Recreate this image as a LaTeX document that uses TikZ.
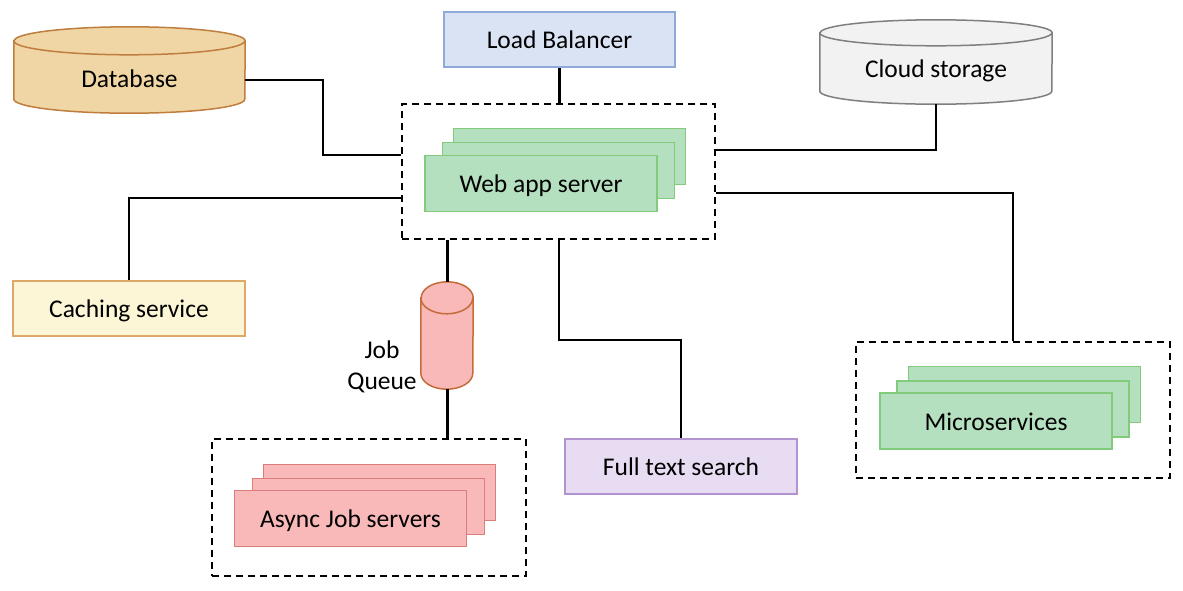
\documentclass[tikz,border=0pt]{standalone}
\usepackage{fontspec}
\setmainfont{Carlito}
\usetikzlibrary{calc}
\definecolor{dbfill}{HTML}{F0D6A4}
\definecolor{dbline}{HTML}{BF7D3E}
\definecolor{lbfill}{HTML}{DAE3F3}
\definecolor{lbline}{HTML}{8EAADB}
\definecolor{csfill}{HTML}{F2F2F2}
\definecolor{csline}{HTML}{7F7F7F}
\definecolor{grfill}{HTML}{B4E0C0}
\definecolor{grline}{HTML}{82CA7C}
\definecolor{cafill}{HTML}{FCF6D7}
\definecolor{caline}{HTML}{DDA86A}
\definecolor{jqfill}{HTML}{F8B9B8}
\definecolor{jqline}{HTML}{C56B3A}
\definecolor{asline}{HTML}{D97E7C}
\definecolor{ftfill}{HTML}{E8DCF2}
\definecolor{ftline}{HTML}{B393CF}
\tikzset{
  lbl/.style={font=\fontsize{25.5}{31}\selectfont, inner sep=0pt, text=black},
  oneline/.style={lbl, text height=18pt, text depth=0pt},
  boxnode/.style={oneline, draw, line width=1.5pt, minimum width=232pt, minimum height=56pt},
  ghost/.style={inner sep=0pt, draw=none},
  container/.style={draw=black, line width=2pt, dash pattern=on 7pt off 5pt, inner sep=0pt},
  thin/.style={draw=black, line width=2pt},
  thick/.style={draw=black, line width=3pt},
}
\begin{document}
\begin{tikzpicture}[x=1pt,y=-1pt]
\useasboundingbox (0,0) rectangle (1183,590);

% ---------- cylinders ----------
% Database
\node[ghost, minimum width=231pt, minimum height=86pt] (db) at (129.5,70) {};
\path[fill=dbfill, draw=dbline, line width=1.5pt]
  ([yshift=-14pt]db.north west) -- ([yshift=14pt]db.south west)
  arc[start angle=180, end angle=360, x radius=115.5pt, y radius=14pt]
  -- ([yshift=-14pt]db.north east)
  arc[start angle=0, end angle=180, x radius=115.5pt, y radius=14pt] -- cycle;
\draw[dbline, line width=1.5pt] ([yshift=-14pt]db.north west)
  arc[start angle=180, end angle=360, x radius=115.5pt, y radius=14pt];
\node[oneline] (dbt) at (129.5,78) {Database};

% Cloud storage
\node[ghost, minimum width=232pt, minimum height=84pt] (cs) at (936,62) {};
\path[fill=csfill, draw=csline, line width=1.5pt]
  ([yshift=-13pt]cs.north west) -- ([yshift=13pt]cs.south west)
  arc[start angle=180, end angle=360, x radius=116pt, y radius=13pt]
  -- ([yshift=-13pt]cs.north east)
  arc[start angle=0, end angle=180, x radius=116pt, y radius=13pt] -- cycle;
\draw[csline, line width=1.5pt] ([yshift=-13pt]cs.north west)
  arc[start angle=180, end angle=360, x radius=116pt, y radius=13pt];
\node[oneline] (cst) at (936,68) {Cloud storage};

% Job queue
\node[ghost, minimum width=52pt, minimum height=107pt] (jq) at (447,335.5) {};
\path[fill=jqfill, draw=jqline, line width=1.5pt]
  ([yshift=-16pt]jq.north west) -- ([yshift=16pt]jq.south west)
  arc[start angle=180, end angle=360, x radius=26pt, y radius=16pt]
  -- ([yshift=-16pt]jq.north east)
  arc[start angle=0, end angle=180, x radius=26pt, y radius=16pt] -- cycle;
\draw[jqline, line width=1.5pt] ([yshift=-16pt]jq.north west)
  arc[start angle=180, end angle=360, x radius=26pt, y radius=16pt];
\node[lbl, align=center] (jqt) at (382,367) {Job\\Queue};

% ---------- simple boxes ----------
\node[boxnode, fill=lbfill, draw=lbline, minimum width=231pt, minimum height=55pt] (lb) at (559.5,39.5) {Load Balancer};
\node[boxnode, fill=cafill, draw=caline, minimum height=55pt] (cache) at (129,308.5) {Caching service};
\node[boxnode, fill=ftfill, draw=ftline, minimum height=55pt] (fts) at (681,466.5) {Full text search};

% ---------- containers ----------
\node[container, minimum width=313pt, minimum height=135pt] (web) at (558.5,171.5) {};
\node[container, minimum width=314pt, minimum height=137pt] (async) at (369,507.5) {};
\node[container, minimum width=314pt, minimum height=136pt] (micro) at (1013,410) {};

% ---------- stacks ----------
\node[boxnode, fill=grfill, draw=grline] (web3) at (569.5,156.5) {};
\node[boxnode, fill=grfill, draw=grline] (web2) at (558.5,170.5) {};
\node[boxnode, fill=grfill, draw=grline] (web1) at (541,183.5) {Web app server};

\node[boxnode, fill=jqfill, draw=asline] (as3) at (379.5,492.5) {};
\node[boxnode, fill=jqfill, draw=asline] (as2) at (368.5,506.5) {};
\node[boxnode, fill=jqfill, draw=asline] (as1) at (350.5,518.5) {Async Job servers};

\node[boxnode, fill=grfill, draw=grline] (ms3) at (1024.5,394.5) {};
\node[boxnode, fill=grfill, draw=grline] (ms2) at (1013,409) {};
\node[boxnode, fill=grfill, draw=grline] (ms1) at (996,421) {Microservices};

% ---------- connectors ----------
\draw[thick] (lb.south) -- (lb.south |- web.north);
\draw[thin] ([yshift=-10pt]db.east) -| (323,155) -- (web.west |- 0,155);
\draw[thin] (cache.north) |- (web.west |- 0,198);
\draw[thin] (web.east |- 0,150) -| (cs.south);
\draw[thin] (web.east |- 0,193) -| (micro.north);
\draw[thin] (web.south) -- ++(0,100) -| (fts.north);
\draw[thick] (web.south -| jq.north) -- (jq.north);
\draw[thick] (jq.south) -- (async.north -| jq.south);
\end{tikzpicture}
\end{document}
